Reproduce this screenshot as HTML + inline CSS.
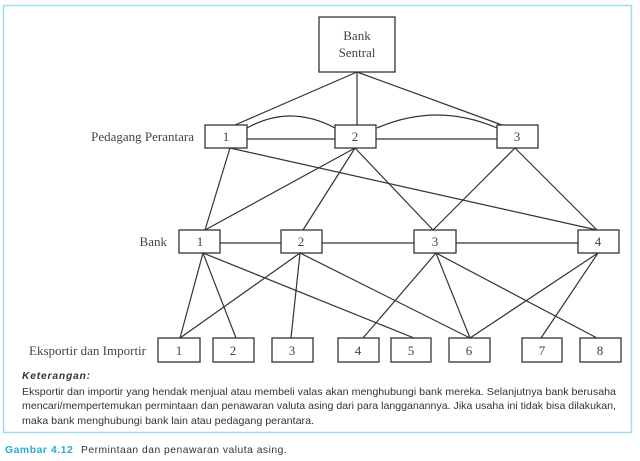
<!DOCTYPE html>
<html><head><meta charset="utf-8"><style>
html,body{margin:0;padding:0;background:#fff;width:640px;height:461px;overflow:hidden}
svg{position:absolute;left:0;top:0}
.t{font-family:"Liberation Sans",sans-serif;fill:#333;font-size:10.3px}
.s{font-family:"Liberation Serif",serif;fill:#444;font-size:13px}
</style></head><body>
<svg width="640" height="461" viewBox="0 0 640 461">
<rect x="3.5" y="5.5" width="628" height="427" fill="#fff" stroke="#9fdcef" stroke-width="1.5"/>
<g stroke="#333" stroke-width="1.2" fill="none">
<line x1="357" y1="72" x2="235" y2="125"/>
<line x1="357" y1="72" x2="357" y2="125"/>
<line x1="357" y1="72" x2="502" y2="125"/>
<path d="M247 128 Q290 104 335 128"/>
<path d="M377 128 Q437 102 497 128"/>
<line x1="247" y1="139" x2="335" y2="139"/>
<line x1="376" y1="139" x2="497" y2="139"/>
<line x1="230" y1="148" x2="205" y2="230"/>
<line x1="230" y1="148" x2="597" y2="230"/>
<line x1="355" y1="148" x2="205" y2="230"/>
<line x1="355" y1="148" x2="303" y2="230"/>
<line x1="355" y1="148" x2="433" y2="230"/>
<line x1="515" y1="148" x2="433" y2="230"/>
<line x1="515" y1="148" x2="597" y2="230"/>
<line x1="220" y1="243" x2="281" y2="243"/>
<line x1="322" y1="243" x2="414" y2="243"/>
<line x1="456" y1="243" x2="578" y2="243"/>
<line x1="203" y1="253" x2="180" y2="338"/>
<line x1="203" y1="253" x2="236" y2="338"/>
<line x1="203" y1="253" x2="414" y2="338"/>
<line x1="300" y1="253" x2="180" y2="338"/>
<line x1="300" y1="253" x2="291" y2="338"/>
<line x1="300" y1="253" x2="470" y2="338"/>
<line x1="436" y1="253" x2="363" y2="338"/>
<line x1="436" y1="253" x2="470" y2="338"/>
<line x1="436" y1="253" x2="597" y2="338"/>
<line x1="598" y1="253" x2="470" y2="338"/>
<line x1="598" y1="253" x2="541" y2="338"/>
</g>
<g stroke="#333" stroke-width="1.3" fill="#fff">
<rect x="319" y="17" width="76" height="55"/>
<rect x="205" y="125" width="42" height="23"/>
<rect x="335" y="125" width="41" height="23"/>
<rect x="497" y="125" width="41" height="23"/>
<rect x="179" y="230" width="41" height="23"/>
<rect x="281" y="230" width="41" height="23"/>
<rect x="414" y="230" width="42" height="23"/>
<rect x="578" y="230" width="41" height="23"/>
<rect x="158" y="338" width="42" height="24"/>
<rect x="213" y="338" width="41" height="24"/>
<rect x="272" y="338" width="41" height="24"/>
<rect x="338" y="338" width="41" height="24"/>
<rect x="391" y="338" width="40" height="24"/>
<rect x="449" y="338" width="41" height="24"/>
<rect x="522" y="338" width="40" height="24"/>
<rect x="580" y="338" width="41" height="24"/>
</g>
<g class="s" text-anchor="middle">
<text x="357" y="40">Bank</text><text x="357" y="57">Sentral</text>
<text x="226" y="141">1</text><text x="355" y="141">2</text><text x="517" y="141">3</text>
<text x="200" y="246">1</text><text x="301" y="246">2</text><text x="435" y="246">3</text><text x="598" y="246">4</text>
<text x="179" y="355">1</text><text x="233" y="355">2</text><text x="292" y="355">3</text><text x="358" y="355">4</text><text x="411" y="355">5</text><text x="469" y="355">6</text><text x="542" y="355">7</text><text x="600" y="355">8</text>
</g>
<g class="s" text-anchor="end">
<text x="194" y="141">Pedagang Perantara</text>
<text x="167" y="246">Bank</text>
<text x="146" y="355">Eksportir dan Importir</text>
</g>
<text x="22" y="379" class="t" style="font-weight:bold;font-style:italic;letter-spacing:0.8px">Keterangan:</text>
<text x="22" y="395" class="t" textLength="594" lengthAdjust="spacingAndGlyphs">Eksportir dan importir yang hendak menjual atau membeli valas akan menghubungi bank mereka. Selanjutnya bank berusaha</text>
<text x="22" y="409" class="t" textLength="594" lengthAdjust="spacingAndGlyphs">mencari/mempertemukan permintaan dan penawaran valuta asing dari para langganannya. Jika usaha ini tidak bisa dilakukan,</text>
<text x="22" y="424" class="t" textLength="292" lengthAdjust="spacingAndGlyphs">maka bank menghubungi bank lain atau pedagang perantara.</text>
<text x="5" y="453" class="t" style="fill:#2aa8d8;font-weight:bold;letter-spacing:0.6px">Gambar 4.12</text>
<text x="81" y="453" class="t" style="letter-spacing:0.5px">Permintaan dan penawaran valuta asing.</text>
</svg>
</body></html>
